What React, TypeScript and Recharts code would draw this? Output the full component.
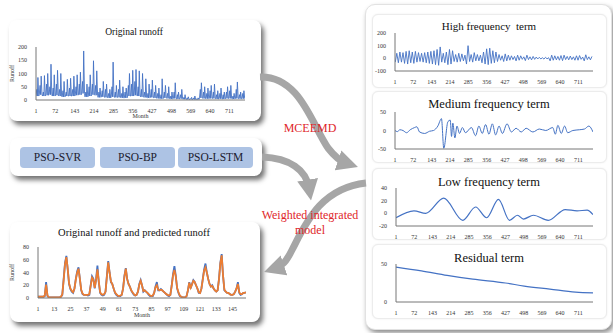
import React from 'react';
import { LineChart, Line, XAxis, YAxis } from 'recharts';

// ---------- DATA ----------
const monthTicks = [1, 72, 143, 214, 285, 356, 427, 498, 569, 640, 711];
const bottomTicks = [1, 13, 25, 37, 49, 61, 73, 85, 97, 109, 121, 133, 145];

// Original runoff: annual peak, secondary spike and low flow (64 years)
const runoffPeaks = [85, 90, 92, 100, 135, 95, 112, 100, 70, 78, 82, 90, 95, 105, 185, 60, 95, 148, 110, 45, 70, 60, 40, 143, 55, 75, 50, 45, 100, 112, 115, 110, 100, 80, 60, 75, 55, 45, 80, 55, 50, 30, 65, 30, 40, 20, 12, 10, 15, 8, 65, 50, 45, 55, 60, 35, 45, 30, 50, 55, 25, 68, 30, 35];
const runoffSecond = [40, 55, 30, 60, 50, 45, 60, 40, 35, 30, 45, 40, 50, 60, 70, 30, 50, 60, 55, 30, 35, 40, 25, 50, 30, 40, 25, 30, 55, 60, 70, 50, 40, 30, 25, 40, 30, 25, 20, 30, 25, 15, 30, 20, 20, 10, 8, 5, 8, 5, 40, 30, 25, 35, 30, 20, 25, 20, 30, 35, 15, 40, 20, 25];
const runoffLows = [15, 20, 15, 18, 20, 15, 18, 15, 12, 15, 15, 15, 18, 20, 25, 12, 15, 20, 18, 10, 12, 10, 8, 12, 10, 10, 8, 8, 15, 15, 18, 15, 12, 10, 8, 10, 8, 6, 5, 8, 6, 4, 6, 4, 5, 3, 2, 2, 2, 2, 8, 6, 5, 6, 6, 4, 5, 4, 6, 6, 4, 6, 5, 5];

// High frequency term: annual up / down swings
const hfUp = [40, 50, 45, 55, 60, 50, 55, 45, 40, 45, 50, 55, 60, 70, 90, 40, 50, 70, 60, 30, 40, 35, 25, 100, 30, 45, 30, 25, 50, 75, 80, 60, 50, 30, 20, 35, 25, 20, 15, 25, 20, 12, 25, 12, 15, 10, 8, 5, 8, 5, 25, 20, 15, 22, 25, 15, 18, 12, 20, 22, 10, 28, 12, 15];
const hfDown = [-30, -35, -30, -40, -45, -35, -40, -30, -25, -30, -35, -40, -45, -50, -55, -30, -35, -50, -45, -25, -30, -25, -20, -45, -25, -30, -20, -20, -35, -45, -50, -40, -35, -25, -15, -25, -20, -15, -10, -20, -15, -8, -18, -10, -12, -8, -5, -5, -6, -4, -20, -15, -12, -15, -18, -10, -12, -10, -15, -15, -8, -20, -10, -12];

// Medium frequency term (turning points)
const mfMonths = [1, 10, 20, 32, 46, 60, 77, 86, 96, 116, 135, 150, 167, 181, 190, 206, 215, 220, 225, 233, 241, 251, 262, 274, 297, 313, 326, 339, 352, 365, 378, 391, 404, 417, 435, 452, 470, 490, 509, 535, 560, 585, 612, 622, 632, 645, 658, 670, 690, 715, 735, 752, 768];
const mfValues = [0, -3, 2, 0, -6, 2, 8, 10, -4, -8, -2, 0, 12, 32, -48, 24, 28, -16, 20, -20, 12, -8, 8, -6, 8, -14, 12, -8, 16, -10, 18, -12, 12, -8, 18, -4, 6, -4, 6, -4, 4, 0, 8, -10, 14, -8, 12, -6, 0, 2, 4, 12, -4];

// Low frequency term (turning points)
const lfMonths = [1, 71, 117, 187, 261, 311, 354, 400, 443, 474, 497, 536, 594, 660, 706, 745, 768];
const lfValues = [-7, 4, 0, 24, -11, 10, -7, 22, -11, -3, -9, -3, -11, 6, 4, 5, -2];

// Residual term
const resMonths = [1, 100, 200, 300, 427, 500, 600, 700, 768];
const resValues = [46, 41, 35, 30, 25, 21, 17, 13, 12];

// Original runoff and predicted runoff (months 1..155)
const observed = [2, 2, 2, 2, 2, 3, 25, 3, 1, 1, 1, 1, 1, 1, 1, 1, 1, 2, 5, 30, 55, 66, 45, 22, 14, 10, 8, 15, 30, 42, 48, 30, 12, 6, 5, 5, 5, 4, 5, 20, 34, 30, 15, 30, 51, 25, 8, 5, 4, 5, 10, 35, 58, 40, 25, 22, 15, 8, 5, 3, 3, 3, 5, 15, 35, 47, 30, 22, 18, 12, 8, 5, 4, 5, 10, 22, 28, 20, 10, 12, 10, 8, 5, 3, 3, 3, 8, 18, 25, 12, 12, 14, 12, 10, 8, 6, 4, 3, 5, 20, 38, 50, 35, 15, 8, 3, 2, 1, 1, 1, 3, 12, 25, 15, 22, 28, 25, 20, 15, 8, 8, 15, 30, 45, 54, 40, 30, 22, 18, 20, 15, 12, 10, 12, 30, 55, 69, 35, 12, 10, 8, 8, 6, 5, 5, 6, 10, 15, 25, 8, 5, 6, 8, 8, 9];
const predicted = [2, 2, 2, 2, 2, 4, 21, 4, 1, 1, 1, 1, 1, 1, 1, 1, 1, 2, 6, 28, 53, 64, 46, 23, 15, 11, 9, 15, 29, 40, 46, 30, 13, 7, 5, 5, 5, 5, 6, 19, 32, 29, 16, 28, 45, 26, 9, 6, 5, 6, 10, 33, 56, 40, 26, 22, 15, 9, 6, 4, 3, 4, 5, 15, 34, 46, 30, 22, 18, 12, 9, 6, 4, 5, 10, 21, 27, 20, 11, 12, 10, 8, 6, 4, 3, 4, 8, 17, 20, 13, 12, 13, 12, 10, 8, 6, 5, 4, 5, 19, 36, 44, 34, 16, 9, 4, 2, 1, 1, 1, 3, 12, 24, 16, 21, 27, 25, 20, 15, 9, 8, 15, 29, 43, 48, 40, 30, 22, 18, 19, 15, 12, 10, 12, 29, 54, 67, 35, 13, 10, 8, 8, 6, 5, 5, 6, 10, 15, 22, 9, 6, 6, 8, 8, 9];

// ---------- TABLES ----------
const runoffData = runoffPeaks.flatMap((p, y) => [
  { m: 12 * y + 1, v: runoffLows[y] },
  { m: 12 * y + 4, v: runoffSecond[y] },
  { m: 12 * y + 6, v: runoffLows[y] },
  { m: 12 * y + 8, v: p },
  { m: 12 * y + 11, v: runoffLows[y] },
]);
const hfData = hfUp.flatMap((u, y) => [
  { m: 12 * y + 2, v: hfDown[y] },
  { m: 12 * y + 8, v: u },
]);
const mfData = mfMonths.map((m, i) => ({ m, v: mfValues[i] }));
const lfData = lfMonths.map((m, i) => ({ m, v: lfValues[i] }));
const resData = resMonths.map((m, i) => ({ m, v: resValues[i] }));
const bottomData = observed.map((o, i) => ({ m: i + 1, o, p: predicted[i] }));

// ---------- STYLE ----------
const FONT = '"Liberation Serif", "Times New Roman", serif';
const BLUE = '#4472C4';
const ORANGE = '#ED7D31';
const W = 613;
const H = 333;
const tickStyle = { fontSize: 6, fill: '#333', fontFamily: FONT };

type Box = { x0: number; y0: number; x1: number; y1: number };

function Mini(props: {
  box: Box;
  yW: number;
  xH: number;
  data: any[];
  xMax: number;
  xTicks: number[];
  yDomain: [number, number];
  yTicks: number[];
  children: React.ReactNode;
  xLabel?: string;
  yLabel?: string;
}) {
  const { box, yW, xH } = props;
  return (
    <div style={{ position: 'absolute', left: 0, top: 0 }}>
      <LineChart
        width={W}
        height={H}
        data={props.data}
        margin={{ top: box.y0, left: box.x0 - yW, right: W - box.x1, bottom: H - box.y1 - xH }}
      >
        <XAxis
          dataKey="m"
          type="number"
          domain={[1, props.xMax]}
          ticks={props.xTicks}
          tickLine={false}
          axisLine={{ stroke: '#777' }}
          tick={tickStyle}
          tickMargin={3}
          height={xH}
          interval={0}
          allowDataOverflow
          label={props.xLabel ? { value: props.xLabel, position: 'insideBottom', offset: 3, style: { fontSize: 6, fill: '#333', fontFamily: FONT } } : undefined}
        />
        <XAxis xAxisId="top" orientation="top" height={0} tick={false} tickLine={false} axisLine={{ stroke: '#777' }} />
        <YAxis
          type="number"
          domain={props.yDomain}
          ticks={props.yTicks}
          tickLine={false}
          axisLine={{ stroke: '#777' }}
          tick={tickStyle}
          tickMargin={3}
          width={yW}
          interval={0}
          allowDataOverflow
          label={props.yLabel ? { value: props.yLabel, angle: -90, position: 'insideLeft', offset: 2, style: { fontSize: 6, fill: '#333', fontFamily: FONT, textAnchor: 'middle' } } : undefined}
        />
        <YAxis yAxisId="right" orientation="right" width={0} tick={false} tickLine={false} axisLine={{ stroke: '#777' }} />
        {props.children}
      </LineChart>
    </div>
  );
}

const card = (left: number, top: number, width: number, height: number, extra: React.CSSProperties = {}): React.CSSProperties => ({
  position: 'absolute',
  left,
  top,
  width,
  height,
  background: '#fff',
  borderRadius: 8,
  boxShadow: '3px 4px 5px rgba(0,0,0,0.55)',
  ...extra,
});

const inner = (top: number, height: number): React.CSSProperties => ({
  position: 'absolute',
  left: 372,
  top,
  width: 233,
  height,
  background: '#fff',
  borderRadius: 6,
  border: '1px solid #ececec',
  boxShadow: '0 0 2px rgba(0,0,0,0.08)',
});

const title = (cx: number, cy: number, size: number): React.CSSProperties => ({
  position: 'absolute',
  left: cx - 100,
  top: cy - size * 0.6,
  width: 200,
  textAlign: 'center',
  fontSize: size,
  lineHeight: `${size * 1.2}px`,
  fontFamily: FONT,
  color: '#111',
  whiteSpace: 'nowrap',
});

const btn = (left: number, label: string) => (
  <div
    style={{
      position: 'absolute',
      left,
      top: 147,
      width: 75,
      height: 21,
      borderRadius: 4,
      background: '#adc3e4',
      fontFamily: FONT,
      fontSize: 11.5,
      lineHeight: '21px',
      textAlign: 'center',
      color: '#1c1c30',
    }}
  >
    {label}
  </div>
);

const redText: React.CSSProperties = {
  position: 'absolute',
  fontFamily: FONT,
  color: '#e0262a',
  fontSize: 12,
  textAlign: 'center',
  whiteSpace: 'nowrap',
  width: 120,
  lineHeight: '14px',
};

export default function App() {
  return (
    <div style={{ position: 'absolute', left: 0, top: 0, width: W, height: H, background: '#fff', overflow: 'hidden' }}>
      {/* left cards */}
      <div style={card(9, 20, 252, 101)} />
      <div style={card(10, 138, 252, 38)} />
      <div style={card(10, 222, 250, 100)} />
      {/* right container */}
      <div style={card(365, 4, 245, 324, { borderRadius: 10, border: '1px solid #e2e2e2', boxShadow: '2px 3px 5px rgba(0,0,0,0.45)' })} />
      <div style={inner(14, 72)} />
      <div style={inner(91, 70)} />
      <div style={inner(168, 70)} />
      <div style={inner(244, 73)} />

      {/* arrows */}
      <svg width={W} height={H} style={{ position: 'absolute', left: 0, top: 0 }}>
        <defs>
          <marker id="ah" markerWidth="3" markerHeight="3" refX="1.2" refY="1.5" orient="auto" markerUnits="strokeWidth">
            <polygon points="0,0 3,1.5 0,3" fill="#a6a6a6" />
          </marker>
        </defs>
        <path d="M 260 77 C 300 76, 312 125, 328 148 C 335 157, 340 161, 346 163" fill="none" stroke="#a6a6a6" strokeWidth={7} markerEnd="url(#ah)" />
        <path d="M 262 157 C 290 158, 306 170, 309 188" fill="none" stroke="#a6a6a6" strokeWidth={7} markerEnd="url(#ah)" />
        <path d="M 366 183 C 320 188, 305 225, 292 250 C 286 262, 282 266, 276 268" fill="none" stroke="#a6a6a6" strokeWidth={7} markerEnd="url(#ah)" />
      </svg>

      {/* text */}
      <div style={title(134, 33, 9.5)}>Original runoff</div>
      <div style={title(134, 233, 10.5)}>Original runoff and predicted runoff</div>
      <div style={title(489, 27, 11)}>High frequency&nbsp; term</div>
      <div style={title(489, 104, 12.5)}>Medium frequency term</div>
      <div style={title(489, 182, 12.5)}>Low frequency term</div>
      <div style={title(489, 258, 12.5)}>Residual term</div>
      {btn(20, 'PSO-SVR')}
      {btn(100, 'PSO-BP')}
      {btn(178, 'PSO-LSTM')}
      <div style={{ ...redText, left: 250, top: 121 }}>MCEEMD</div>
      <div style={{ ...redText, left: 250, top: 208 }}>Weighted integrated</div>
      <div style={{ ...redText, left: 250, top: 223 }}>model</div>

      {/* charts */}
      <Mini box={{ x0: 36, y0: 47, x1: 245, y1: 100 }} yW={26} xH={21} data={runoffData} xMax={768} xTicks={monthTicks} yDomain={[0, 200]} yTicks={[0, 50, 100, 150, 200]} xLabel="Month" yLabel="Runoff">
        <Line dataKey="v" stroke={BLUE} strokeWidth={0.9} dot={false} isAnimationActive={false} type="linear" />
      </Mini>
      <Mini box={{ x0: 38, y0: 247, x1: 246, y1: 298 }} yW={28} xH={22} data={bottomData} xMax={155} xTicks={bottomTicks} yDomain={[0, 80]} yTicks={[0, 20, 40, 60, 80]} xLabel="Month" yLabel="Runoff">
        <Line dataKey="o" stroke={BLUE} strokeWidth={1.8} dot={false} isAnimationActive={false} type="linear" />
        <Line dataKey="p" stroke={ORANGE} strokeWidth={1.8} dot={false} isAnimationActive={false} type="linear" />
      </Mini>
      <Mini box={{ x0: 395, y0: 33, x1: 593, y1: 71 }} yW={20} xH={12} data={hfData} xMax={768} xTicks={monthTicks} yDomain={[-100, 200]} yTicks={[-100, 0, 100, 200]}>
        <Line dataKey="v" stroke={BLUE} strokeWidth={0.9} dot={false} isAnimationActive={false} type="linear" />
      </Mini>
      <Mini box={{ x0: 395, y0: 112, x1: 593, y1: 149 }} yW={20} xH={12} data={mfData} xMax={768} xTicks={monthTicks} yDomain={[-50, 50]} yTicks={[-50, 0, 50]}>
        <Line dataKey="v" stroke={BLUE} strokeWidth={1} dot={false} isAnimationActive={false} type="monotone" />
      </Mini>
      <Mini box={{ x0: 396, y0: 188, x1: 593, y1: 226 }} yW={20} xH={12} data={lfData} xMax={768} xTicks={monthTicks} yDomain={[-20, 40]} yTicks={[-20, 0, 20, 40]}>
        <Line dataKey="v" stroke={BLUE} strokeWidth={1.2} dot={false} isAnimationActive={false} type="monotone" />
      </Mini>
      <Mini box={{ x0: 396, y0: 264, x1: 593, y1: 302 }} yW={20} xH={12} data={resData} xMax={768} xTicks={monthTicks} yDomain={[0, 50]} yTicks={[0, 50]}>
        <Line dataKey="v" stroke={BLUE} strokeWidth={1.2} dot={false} isAnimationActive={false} type="monotone" />
      </Mini>
    </div>
  );
}
